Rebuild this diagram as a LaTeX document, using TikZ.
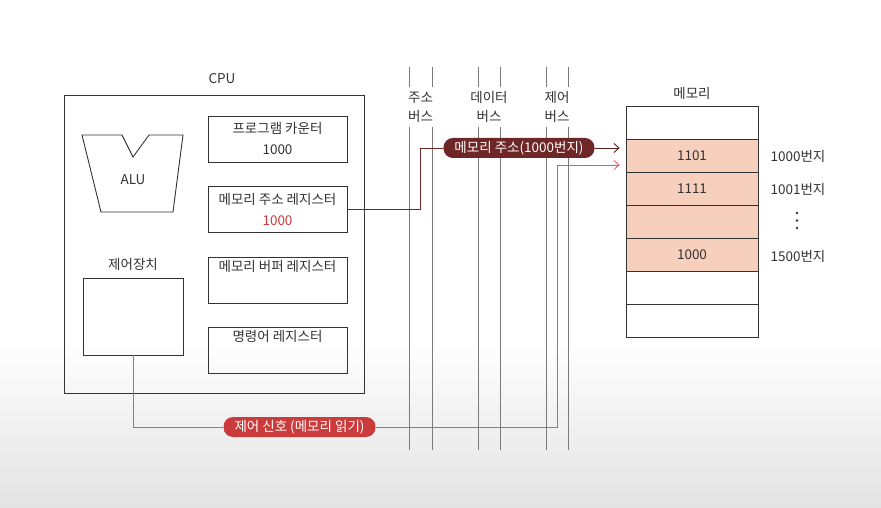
\documentclass[tikz,border=0pt]{standalone}
\usepackage{fontspec}
\newfontfamily\kr{Noto Sans CJK KR}
\usetikzlibrary{calc,arrows.meta}

\definecolor{ink}{HTML}{333333}
\definecolor{busgray}{HTML}{7A7A7A}
\definecolor{addrred}{HTML}{6E2626}
\definecolor{sigred}{HTML}{CC3B3B}
\definecolor{wirered}{HTML}{DD5A5A}
\definecolor{peach}{HTML}{F6CFBD}

\tikzset{
  box/.style={draw=ink, line width=0.9pt},
  reg/.style={box, minimum width=139pt, minimum height=46pt, align=center, text=ink, inner sep=0pt},
  bus/.style={draw=busgray, line width=0.8pt},
  pill/.style={rounded corners=9.5pt, minimum height=20pt, inner xsep=11pt, inner ysep=0pt, text=white, font=\kr\fontsize{13.5}{14}\selectfont},
  cell/.style={draw=ink, line width=0.8pt, minimum width=132pt, minimum height=33pt, inner sep=0pt, text=ink}
}

\begin{document}
\begin{tikzpicture}[x=1pt, y=-1pt, font=\kr\fontsize{13.5}{21}\selectfont]
    \useasboundingbox (0,0) rectangle (881,508);
    % background
    \fill[white] (0,0) rectangle (881,340);
    \shade[top color=white, bottom color=black!11] (0,340) rectangle (881,508);

    % CPU
    \node[box, minimum width=300pt, minimum height=298pt, inner sep=0pt] (cpu) at (214.5,244) {};
    \node[text=ink] (cpulabel) at (222,79) {CPU};
    \draw[box, line join=miter] (82,135) -- (122,135) -- (133,157) -- (149,135) -- (183,135) -- (173,212) -- (101,212) -- cycle;
    \node[text=ink] (alu) at (133,180) {ALU};
    \node[text=ink] (culabel) at (133,264) {제어장치};
    \node[box, minimum width=100pt, minimum height=77pt, inner sep=0pt] (cu) at (133,316.5) {};

    % registers
    \node[reg] (pc)  at (277.5,139)   {프로그램 카운터\\1000};
    \node[reg] (mar) at (277.5,209.5) {메모리 주소 레지스터\\\textcolor{sigred}{1000}};
    \node[reg] (mbr) at (277.5,280)   {메모리 버퍼 레지스터\\\strut};
    \node[reg] (ir)  at (277.5,350)   {명령어 레지스터\\\strut};

    % buses
    \foreach \x in {409,432,478,500,546,568} {
        \draw[bus] (\x,67) -- (\x,87);
        \draw[bus] (\x,127) -- (\x,450);
    }
    \node[text=ink, align=center, font=\kr\fontsize{13.5}{19}\selectfont] (abus) at (420.5,107) {주소\\버스};
    \node[text=ink, align=center, font=\kr\fontsize{13.5}{19}\selectfont] (dbus) at (489,107) {데이터\\버스};
    \node[text=ink, align=center, font=\kr\fontsize{13.5}{19}\selectfont] (cbus) at (557,107) {제어\\버스};

    % memory
    \node[text=ink] (memlabel) at (692,93) {메모리};
    \foreach \i/\val/\col in {1/{}/white, 2/1101/peach, 3/1111/peach, 4/{}/peach, 5/1000/peach, 6/{}/white, 7/{}/white}
        \node[cell, fill=\col] (row\i) at (692,{122.5+(\i-1)*33}) {\val};
    \node[text=ink] (ad1) at (798,156) {1000번지};
    \node[text=ink] (ad2) at (798,189) {1001번지};
    \foreach \y in {213,220.5,228} \fill[ink] (797,\y) circle (1.3pt);
    \node[text=ink] (ad3) at (798,256) {1500번지};

    % address signal
    \node[pill, fill=addrred] (addr) at (519,148) {메모리 주소(1000번지)};
    \coordinate (mbend) at (420,148);
    \draw[addrred, line width=0.9pt] (mar.east) -| (mbend) -- (addr.west);
    \draw[addrred!80!black, line width=0.9pt, -{Straight Barb[length=5pt,width=9pt]}, shorten >=6pt] (addr.east) -- (addr.east -| row2.west);

    % control signal
    \node[pill, fill=sigred] (sig) at (299.5,427) {제어 신호 (메모리 읽기)};
    \coordinate (rbend) at (557,165);
    \draw[wirered, line width=0.8pt] (cu.south) |- (sig.west);
    \draw[wirered, line width=0.8pt] (sig.east) -| (rbend);
    \draw[wirered, line width=0.8pt, -{Straight Barb[length=5pt,width=9pt]}, shorten >=6pt] (rbend) -- (rbend -| row2.west);
\end{tikzpicture}
\end{document}
